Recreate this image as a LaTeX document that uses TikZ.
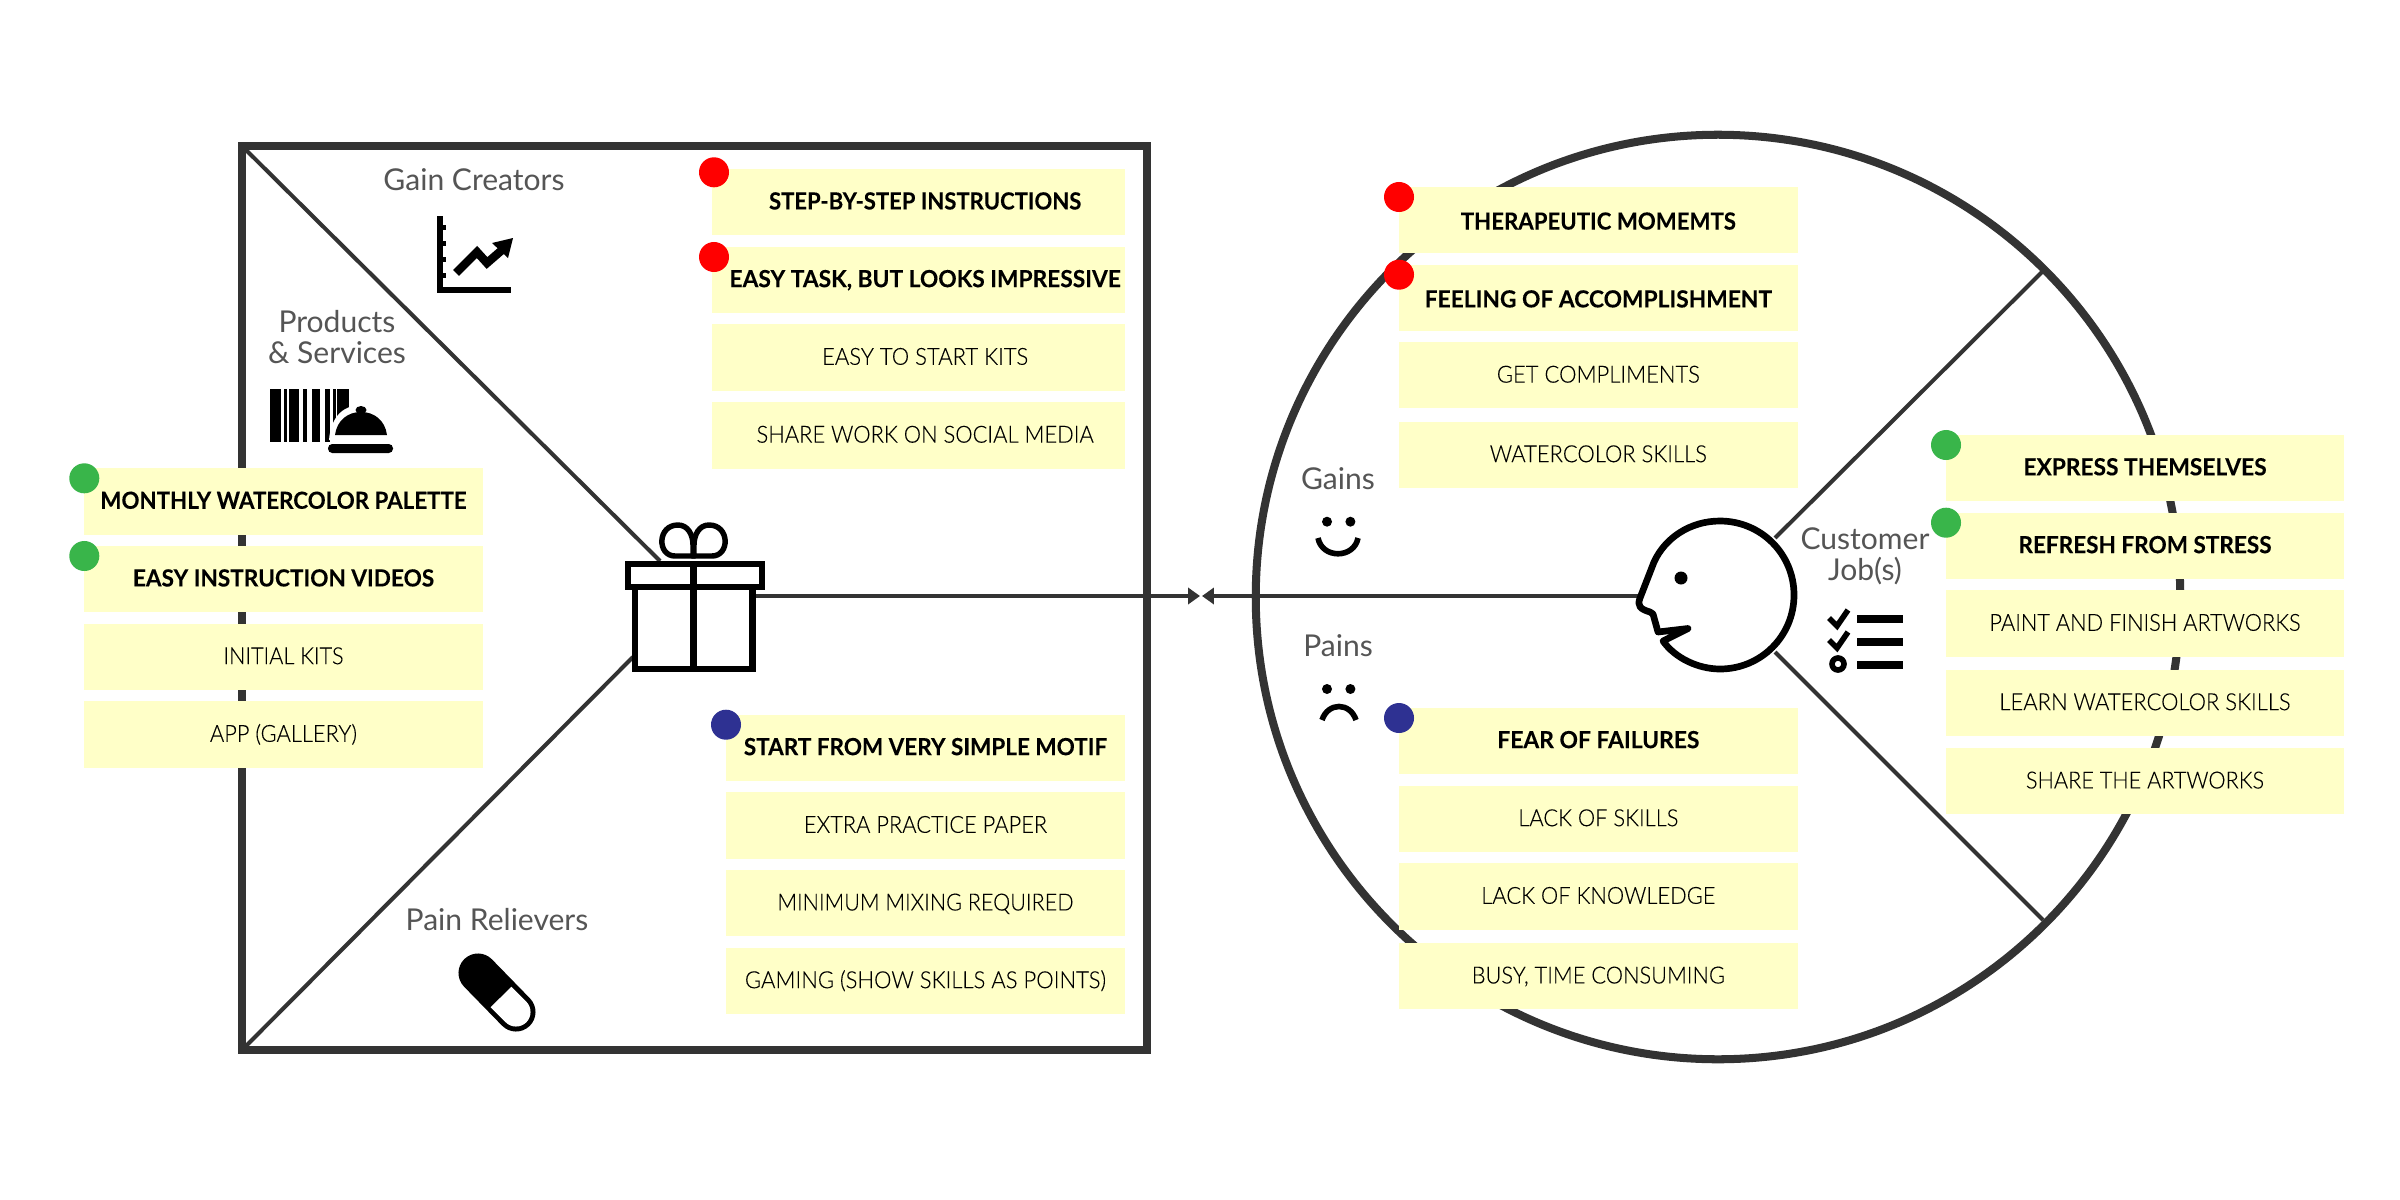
\documentclass[tikz,border=0pt]{standalone}
\usepackage{fontspec}
\usepackage{graphicx}
\setmainfont{Lato}
\newfontfamily\litef{Lato Light}[FakeBold=0.12]
\newfontfamily\boldf{Lato}[UprightFont=* Bold,FakeBold=0.15]
\usetikzlibrary{arrows.meta}
\definecolor{ink}{HTML}{333333}
\definecolor{stk}{HTML}{FFFFC8}
\definecolor{lab}{HTML}{555555}
\definecolor{dgreen}{HTML}{39B54A}
\definecolor{dred}{HTML}{FF0000}
\definecolor{dblue}{HTML}{2E3192}
\tikzset{
  frame/.style={draw=ink,line width=2.28pt},
  divider/.style={draw=ink,line width=1.14pt},
  axisline/.style={draw=ink,line width=1pt,-{Triangle[length=3.4pt,width=4.6pt]}},
  stickybase/.style={fill=stk,inner sep=0pt,outer sep=0pt,text height=4.75pt,text depth=0pt,align=center,text=black},
  dot/.style={circle,inner sep=0pt,minimum size=0.3cm,fill=#1},
  label/.style={text=lab,font=\fontsize{8.55}{9.5}\selectfont,inner sep=0pt,align=center},
}
\newsavebox{\notebox}
\def\notedx{0pt}
% [raise]{font}{name}{x1}{y1}{x2}{y2}{target width}{text}
\newcommand{\stickynote}[9][0.3pt]{%
  \node[stickybase,minimum width={(#6-#4)*0.01cm},minimum height={(#7-#5)*0.01cm}] (#3) at ({(#4+#6)/2},{(#5+#7)/2}) {%
    \sbox{\notebox}{#2\fontsize{6.7}{8}\selectfont #9}%
    \pgfmathsetmacro{\notescale}{#8*0.284528/\the\wd\notebox}%
    \hspace*{\notedx}\raisebox{#1}{\scalebox{\notescale}[1]{\usebox{\notebox}}}};}
\begin{document}
\begin{tikzpicture}[x=0.01cm,y=-0.01cm]
\useasboundingbox[fill=white] (0,0) rectangle (2400,1200);
% anchors
\coordinate (sqTL) at (242,146);
\coordinate (sqTR) at (1147,146);
\coordinate (sqBR) at (1147,1050);
\coordinate (sqBL) at (242,1050);
\coordinate (giftUp) at (660,561);
\coordinate (giftLow) at (633,657);
\coordinate (giftR) at (755,596);
\coordinate (meetL) at (1200,596);
\coordinate (meetR) at (1202,596);
\coordinate (faceL) at (1639,596);
\coordinate (cirC) at (1718,597);
\coordinate (cirL) at (1256,596);
\coordinate (cirUR) at (2043,271);
\coordinate (cirLR) at (2043,920);
\coordinate (headUR) at (1775,538);
\coordinate (headLR) at (1775,652);
% frames
\draw[frame] (sqTL) -- (sqTR) -- (sqBR) -- (sqBL) -- cycle;
\draw[frame] (cirC) circle[radius=4.62cm];
\draw[divider] (sqTL) -- (giftUp);
\draw[divider] (sqBL) -- (giftLow);
\draw[divider] (headUR) -- (cirUR);
\draw[divider] (headLR) -- (cirLR);
\draw[axisline] (giftR) -- (meetL);
\draw[axisline] (faceL) -- (meetR);
\draw[divider] (cirL) -- (faceL);
% gift
\draw[draw=black,line width=1.8pt,fill=white] (635,587) rectangle (752.5,669);
\draw[draw=black,line width=1.8pt,fill=white] (628,564) rectangle (762,587);
\draw[draw=black,line width=1.8pt] (693.5,564) -- (693.5,669);
\draw[draw=black,line width=1.55pt,fill=white] (693,556) -- (675,556) .. controls (657,556) and (657,525) .. (678,525) .. controls (688,525) and (693,535) .. (693,545) -- cycle;
\draw[draw=black,line width=1.55pt,fill=white] (694,556) -- (712,556) .. controls (730,556) and (730,525) .. (709,525) .. controls (699,525) and (694,535) .. (694,545) -- cycle;
% chart icon
\fill (437,216) rectangle (442.5,293);
\fill (437,287) rectangle (511,293);
\foreach \ty in {227,243,259,275} \fill (441,\ty-2.5) rectangle (446,\ty+2.5);
\draw[line width=2.4pt,black] (456,273) -- (477,252) -- (487,263) -- (502,250);
\fill (513,238) -- (492,243) -- (508,258) -- cycle;
% barcode and cloche
\foreach \xa/\xb in {270/280.7,284.3/287.3,289.3/299.3,302.7/307.3,311.7/320,325/330,332.7/336,337.3/349.3}
  \fill (\xa,389) rectangle (\xb,442);
\fill[white] (331,437) rectangle (400,460);
\fill[white] (329,440) .. controls (331,415) and (345,405) .. (361,405) .. controls (377,405) and (391,415) .. (393,440) -- cycle;
\fill (335,435) .. controls (337,420) and (348,412) .. (361,412) .. controls (374,412) and (385,420) .. (387,435) -- cycle;
\fill (361,410) ellipse[x radius=5.5,y radius=4];
\fill[rounded corners=1.2pt] (328,444) rectangle (393,453);
% pill
\draw[line width=11.1pt,line cap=round,black] (478,973) -- (516,1012);
\fill[white] (511.4,986.8) -- (526.4,1001.8) .. controls (532,1007.5) and (531.9,1016.8) .. (526.2,1022.4) .. controls (520.5,1028) and (511.2,1027.9) .. (505.6,1022.2) -- (490.6,1007.2) -- cycle;
% head
\draw[draw=black,line width=1.9pt,fill=white,line join=round] (1663,641) .. controls (1675,658) and (1698,669) .. (1720,669) .. controls (1761,669) and (1794,636) .. (1794,595) .. controls (1794,554) and (1761,521) .. (1720,521) .. controls (1690,521) and (1665,538) .. (1654,562) -- (1640,598) .. controls (1637,606) and (1640,609) .. (1650,612) -- (1653,614) -- (1658,632) -- (1688,628.5) -- cycle;
\fill (1681,578) circle[radius=6.5];
% faces
\fill (1327,521.7) circle[radius=5];
\fill (1350.4,521.7) circle[radius=5];
\draw[black,line width=1.6pt] (1318,538) .. controls (1322,559) and (1354,559) .. (1358,538);
\fill (1327,689) circle[radius=5];
\fill (1350.4,689) circle[radius=5];
\draw[black,line width=1.6pt] (1322,720) .. controls (1328,702) and (1350,702) .. (1356,720);
% job list
\draw[black,line width=1.6pt] (1829,618) -- (1837,626) -- (1848,610);
\draw[black,line width=1.6pt] (1829,640) -- (1837,648) -- (1848,632);
\draw[black,line width=1.6pt] (1838,664) circle[radius=6];
\fill (1857,615) rectangle (1903,623);
\fill (1857,638) rectangle (1903,646);
\fill (1857,661) rectangle (1903,668.5);
% labels
\node[label] (gc) at (474,179.5) {Gain Creators};
\node[label] (ps) at (337,337) {Products\\[-0.6pt]\& Services};
\node[label] (pr) at (497,920) {Pain Relievers};
\node[label] (gn) at (1338,479) {Gains};
\node[label] (pn) at (1338,646) {Pains};
\node[label] (cj) at (1865,556.5) {Customer\\[-0.6pt]Job(s)};
% value proposition notes
\stickynote{\boldf}{p1}{84}{468.3}{483}{534.7}{366}{MONTHLY WATERCOLOR PALETTE}
\stickynote{\boldf}{p2}{84}{546}{483}{612.3}{301}{EASY INSTRUCTION VIDEOS}
\stickynote{\litef}{p3}{84}{623.7}{483}{690}{120}{INITIAL KITS}
\stickynote{\litef}{p4}{84}{701.3}{483}{767.7}{147}{APP (GALLERY)}
\def\notedx{3.7pt}
\stickynote{\boldf}{c1}{712.3}{169}{1125}{235.3}{312}{STEP-BY-STEP INSTRUCTIONS}
\stickynote{\boldf}{c2}{712.3}{246.7}{1125}{313}{391}{EASY TASK, BUT LOOKS IMPRESSIVE}
\stickynote{\litef}{c3}{712.3}{324.3}{1125}{390.7}{206}{EASY TO START KITS}
\stickynote{\litef}{c4}{712.3}{402}{1125}{468.7}{337}{SHARE WORK ON SOCIAL MEDIA}
\def\notedx{0pt}
\stickynote{\boldf}{r1}{726}{714.7}{1125}{781}{363}{START FROM VERY SIMPLE MOTIF}
\stickynote{\litef}{r2}{726}{792.3}{1125}{858.7}{243}{EXTRA PRACTICE PAPER}
\stickynote{\litef}{r3}{726}{870}{1125}{936.3}{296}{MINIMUM MIXING REQUIRED}
\stickynote{\litef}{r4}{726}{947.7}{1125}{1014}{361}{GAMING (SHOW SKILLS AS POINTS)}
% customer notes
\stickynote[-0.35pt]{\boldf}{g1}{1399}{187}{1797.7}{253}{275}{THERAPEUTIC MOMEMTS}
\stickynote[-0.35pt]{\boldf}{g2}{1399}{264.7}{1797.7}{331}{347}{FEELING OF ACCOMPLISHMENT}
\stickynote{\litef}{g3}{1399}{342.3}{1797.7}{408.3}{203}{GET COMPLIMENTS}
\stickynote{\litef}{g4}{1399}{421.7}{1797.7}{488}{217}{WATERCOLOR SKILLS}
\stickynote{\boldf}{n1}{1399}{707.7}{1797.7}{774}{202}{FEAR OF FAILURES}
\stickynote{\litef}{n2}{1399}{785.7}{1797.7}{852}{160}{LACK OF SKILLS}
\stickynote{\litef}{n3}{1399}{863.3}{1797.7}{929.7}{234}{LACK OF KNOWLEDGE}
\stickynote{\litef}{n4}{1399}{943}{1797.7}{1009.3}{253}{BUSY, TIME CONSUMING}
\stickynote{\boldf}{j1}{1946}{435}{2344}{501}{243}{EXPRESS THEMSELVES}
\stickynote{\boldf}{j2}{1946}{512.7}{2344}{579}{253}{REFRESH FROM STRESS}
\stickynote{\litef}{j3}{1946}{590.3}{2344}{656.7}{311}{PAINT AND FINISH ARTWORKS}
\stickynote{\litef}{j4}{1946}{669.7}{2344}{736}{291}{LEARN WATERCOLOR SKILLS}
\stickynote{\litef}{j5}{1946}{748}{2344}{814.3}{238}{SHARE THE ARTWORKS}
% dots
\node[dot=dgreen] (dp1) at (84.3,478.3) {};
\node[dot=dgreen] (dp2) at (84.3,556) {};
\node[dot=dred] (dc1) at (714,172.3) {};
\node[dot=dred] (dc2) at (714,257) {};
\node[dot=dblue] (dr1) at (726,724.7) {};
\node[dot=dred] (dg1) at (1399,197) {};
\node[dot=dred] (dg2) at (1399,274.7) {};
\node[dot=dblue] (dn1) at (1399,718) {};
\node[dot=dgreen] (dj1) at (1946,445) {};
\node[dot=dgreen] (dj2) at (1946,522.7) {};
\end{tikzpicture}
\end{document}
